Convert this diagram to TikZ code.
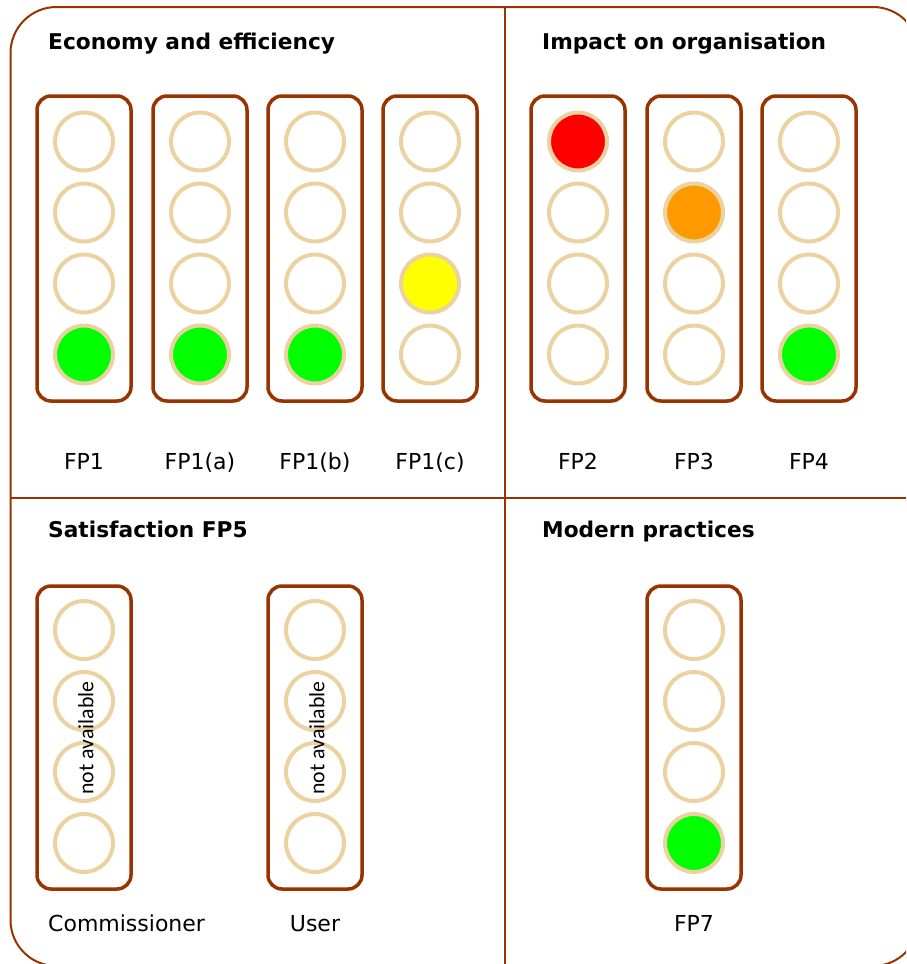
\documentclass[tikz,border=0pt]{standalone}
\usepackage{fontspec}
\setmainfont{DejaVu Sans}
\newfontfamily\carl{Carlito}
\definecolor{brn}{RGB}{153,51,0}
\definecolor{wheatc}{RGB}{235,210,160}
\definecolor{lgreen}{RGB}{0,255,0}
\definecolor{lred}{RGB}{255,0,0}
\definecolor{lorange}{RGB}{255,153,0}
\definecolor{lyellow}{RGB}{255,255,0}
\tikzset{
  lightbox/.style={draw=brn, line width=3.5pt, rounded corners=14pt},
  lamp/.style={circle, draw=wheatc, line width=4pt, minimum size=58pt, inner sep=0pt},
  ttl/.style={anchor=base west, font=\bfseries\fontsize{21.7}{26}\selectfont, inner sep=0pt},
  lbl/.style={anchor=base, font=\fontsize{22}{26}\selectfont, inner sep=0pt},
  na/.style={rotate=90, font=\carl\fontsize{21.8}{26}\selectfont, inner sep=0pt},
  divider/.style={draw=brn, line width=2pt}
}
\begin{document}
\begin{tikzpicture}[x=1pt,y=-1pt]
\useasboundingbox (0,0) rectangle (906,964);
\clip (0,0) rectangle (906,964);
\draw[brn, line width=2pt, rounded corners=46pt] (10.5,7) rectangle (919,966);
\coordinate (vt) at (505,8);
\coordinate (vb) at (505,964);
\coordinate (hl) at (11,498);
\coordinate (hr) at (906,498);
\draw[divider] (vt) -- (vb);
\draw[divider] (hl) -- (hr);
% titles
\node[ttl] (t1) at (48,49) {Economy and efficiency};
\node[ttl] (t2) at (542,49) {Impact on organisation};
\node[ttl] (t3) at (48,537) {Satisfaction FP5};
\node[ttl] (t4) at (542,537) {Modern practices};
% top traffic lights
\foreach \n/\x/\lit/\col in {a/84/4/lgreen, b/200/4/lgreen, c/315/4/lgreen, d/430/3/lyellow, e/578/1/lred, f/694/2/lorange, g/809/4/lgreen}{
  \draw[lightbox] (\x-47,96) rectangle (\x+47,401);
  \foreach \k in {1,...,4}{
    \ifnum\k=\lit
      \node[lamp, fill=\col] (\n\k) at (\x,{141.5+71*(\k-1)}) {};
    \else
      \node[lamp] (\n\k) at (\x,{141.5+71*(\k-1)}) {};
    \fi
  }
}
% bottom traffic lights
\foreach \n/\x/\lit/\col in {h/84/0/white, i/315/0/white, j/694/4/lgreen}{
  \draw[lightbox] (\x-47,586) rectangle (\x+47,889);
  \foreach \k in {1,...,4}{
    \ifnum\k=\lit
      \node[lamp, fill=\col] (\n\k) at (\x,{630+71*(\k-1)}) {};
    \else
      \node[lamp] (\n\k) at (\x,{630+71*(\k-1)}) {};
    \fi
  }
}
\node[na] (na1) at (86,738) {not available};
\node[na] (na2) at (317,738) {not available};
% labels
\node[lbl] (l1) at (84,469) {FP1};
\node[lbl] (l2) at (200,469) {FP1(a)};
\node[lbl] (l3) at (315,469) {FP1(b)};
\node[lbl] (l4) at (430,469) {FP1(c)};
\node[lbl] (l5) at (578,469) {FP2};
\node[lbl] (l6) at (694,469) {FP3};
\node[lbl] (l7) at (809,469) {FP4};
\node[lbl, anchor=base west] (l8) at (48,931) {Commissioner};
\node[lbl] (l9) at (315,931) {User};
\node[lbl] (l10) at (694,931) {FP7};
\end{tikzpicture}
\end{document}
